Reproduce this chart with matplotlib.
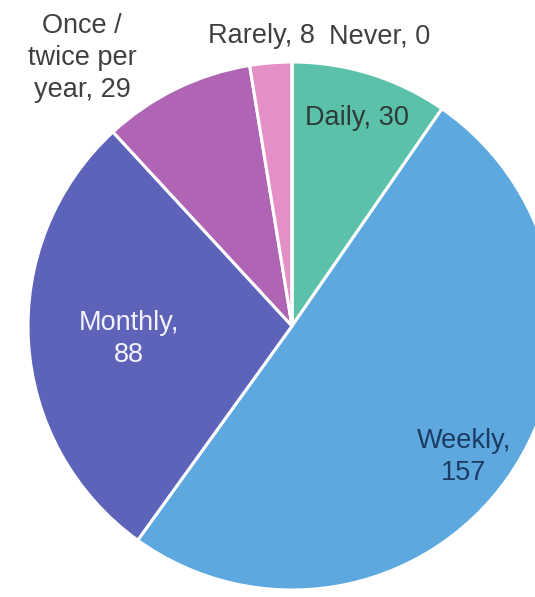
"""Visit frequency pie: counts per category, labels drawn as 'name, value'."""
import matplotlib
matplotlib.use("Agg")
import matplotlib.pyplot as plt

W, H, DPI = 535, 597, 100

categories = ["Daily", "Weekly", "Monthly", "Once /\ntwice per\nyear", "Rarely", "Never"]
counts = [30, 157, 88, 29, 8, 0]
colors = ["#5cc1aa", "#5ca8df", "#5c63b9", "#b064b4", "#e48fc6", "#9ccf6e"]

# pie centre and radius in pixels
CX, CY, R = 292, 326, 264

def px(x, y):
    return (x - CX) / R, (CY - y) / R

plt.rcParams["font.family"] = ["Liberation Sans", "DejaVu Sans"]
fig = plt.figure(figsize=(W / DPI, H / DPI), dpi=DPI)
ax = fig.add_axes([0, 0, 1, 1])
ax.pie(counts, colors=colors, startangle=90, counterclock=False, radius=1,
       wedgeprops=dict(edgecolor="white", linewidth=2.2))
ax.set_xlim(-CX / R, (W - CX) / R)
ax.set_ylim((CY - H) / R, CY / R)
ax.set_aspect("auto")
ax.axis("off")

# label placement (pixel coords) and text colour per category
spots = {
    "Daily": ((357, 118), "#2e3b39"),
    "Weekly": ((464, 457), "#1d3c62"),
    "Monthly": ((129, 339), "#f2f2fa"),
    "Once /\ntwice per\nyear": ((82, 58), "#404040"),
    "Rarely": ((261, 36), "#404040"),
    "Never": ((380, 36), "#404040"),
}
for name, val in zip(categories, counts):
    (x, y), c = spots[name]
    sep = ",\n" if name in ("Weekly", "Monthly") else ", "
    ax.text(*px(x, y), f"{name}{sep}{val}", ha="center", va="center",
            fontsize=19.5, color=c, linespacing=1.28)

fig.savefig("out.png", dpi=DPI, facecolor="white")
